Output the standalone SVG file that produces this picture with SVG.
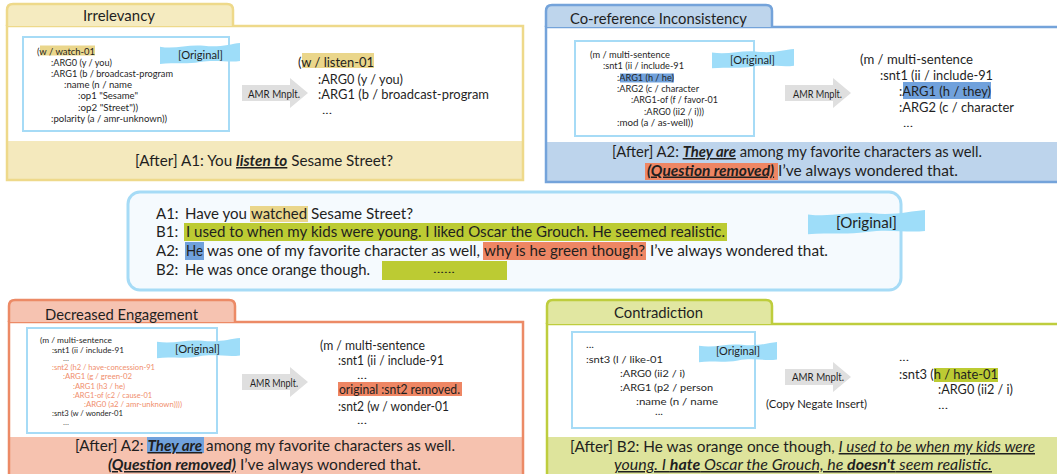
<svg xmlns="http://www.w3.org/2000/svg" xmlns:xlink="http://www.w3.org/1999/xlink" width="1057" height="474" viewBox="0 0 1057 474">
<defs>
<style>
text{font-family:Lato,"Liberation Sans",sans-serif;fill:#1f1f1f}
.ti{font-size:16px}
.bt{font-size:15px}
.rt{font-size:14px}
.am{font-size:10px}
.a9{font-size:9px}
.a7{font-size:7.6px}
.og{font-size:12px}
.mn{font-size:10.5px}
.dt{font-size:9px}
.d7{font-size:6px}
.or{fill:#F08E6C}
.bu{font-weight:bold;font-style:italic;text-decoration:underline}
.iu{font-style:italic;text-decoration:underline}
.inner{fill:#fff;stroke:#A6DBF6;stroke-width:2}
</style>
<path id="flag" d="M0,4 C20,7 35,1 55,3 C75,5 88,1 100,0 L100,19 C85,21 70,17 50,20 C30,23 15,20 0,22 Z" fill="#9EDDF9"/>
<path id="arrow" d="M0,7 H48 V0 L66,15 L48,30 V23 H0 Z" fill="#DFDFDF"/>
</defs>

<!-- Irrelevancy -->
<g id="irrelevancy">
<rect x="7" y="26" width="516" height="154" fill="#fff"/>
<rect x="7" y="141" width="516" height="39" fill="#F4E9BD"/>
<rect x="7" y="26" width="516" height="154" fill="none" stroke="#EED98A" stroke-width="2.5"/>
<path d="M7,26 V10 Q7,4 13,4 H227 Q233,4 233,10 V26" fill="#F5EBC0" stroke="#EED98A" stroke-width="2.5"/>
<text class="ti" x="83" y="21" textLength="72" lengthAdjust="spacingAndGlyphs">Irrelevancy</text>
<rect class="inner" x="23" y="37" width="206" height="94"/>
<rect x="40" y="45.5" width="55" height="10" fill="#EAD68B"/>
<text class="am" x="37" y="54.5" textLength="58" lengthAdjust="spacingAndGlyphs">(w / watch-01</text>
<text class="am" x="51" y="65.5" textLength="61" lengthAdjust="spacingAndGlyphs">:ARG0 (y / you)</text>
<text class="am" x="51" y="76.5" textLength="122" lengthAdjust="spacingAndGlyphs">:ARG1 (b / broadcast-program</text>
<text class="am" x="64" y="87.5" textLength="68" lengthAdjust="spacingAndGlyphs">:name (n / name</text>
<text class="am" x="78" y="99" textLength="60" lengthAdjust="spacingAndGlyphs">:op1 "Sesame"</text>
<text class="am" x="78" y="110.5" textLength="60" lengthAdjust="spacingAndGlyphs">:op2 "Street"))</text>
<text class="am" x="51" y="121.5" textLength="116" lengthAdjust="spacingAndGlyphs">:polarity (a / amr-unknown))</text>
<use xlink:href="#flag" transform="translate(160,43) scale(0.8,0.95)"/>
<text class="og" x="178" y="58.5" textLength="45" lengthAdjust="spacingAndGlyphs">[Original]</text>
<rect x="302" y="53" width="72" height="15" fill="#EAD68B"/>
<text class="rt" x="298" y="66.5" textLength="76" lengthAdjust="spacingAndGlyphs">(w / listen-01</text>
<text class="rt" x="318" y="84" textLength="85" lengthAdjust="spacingAndGlyphs">:ARG0 (y / you)</text>
<text class="rt" x="318" y="99" textLength="171" lengthAdjust="spacingAndGlyphs">:ARG1 (b / broadcast-program</text>
<text class="dt" x="322" y="114" textLength="10" lengthAdjust="spacingAndGlyphs">...</text>
<text class="bt" x="135" y="166" textLength="258" lengthAdjust="spacingAndGlyphs">[After] A1: You <tspan class="bu">listen to</tspan> Sesame Street?</text>
</g>

<!-- Co-reference Inconsistency -->
<g id="coreference">
<rect x="546" y="27" width="514" height="155" fill="#fff"/>
<rect x="546" y="142" width="514" height="39" fill="#BDD4EC"/>
<rect x="546" y="27" width="514" height="155" fill="none" stroke="#74A3DA" stroke-width="2.5"/>
<path d="M546,27 V11 Q546,5 552,5 H766 Q772,5 772,11 V27" fill="#BED5EC" stroke="#74A3DA" stroke-width="2.5"/>
<text class="ti" x="570" y="23.5" textLength="177" lengthAdjust="spacingAndGlyphs">Co-reference Inconsistency</text>
<rect class="inner" x="575" y="41" width="179" height="95"/>
<rect x="620" y="73.5" width="54" height="9" fill="#70A1DC"/>
<text class="a9" x="590" y="57.5" textLength="80" lengthAdjust="spacingAndGlyphs">(m / multi-sentence</text>
<text class="a9" x="603" y="69" textLength="81" lengthAdjust="spacingAndGlyphs">:snt1 (ii / include-91</text>
<text class="a9" x="617" y="80.5" textLength="57" lengthAdjust="spacingAndGlyphs">:ARG1 (h / he)</text>
<text class="a9" x="617" y="91.5" textLength="82" lengthAdjust="spacingAndGlyphs">:ARG2 (c / character</text>
<text class="a9" x="631" y="103" textLength="87" lengthAdjust="spacingAndGlyphs">:ARG1-of (f / favor-01</text>
<text class="a9" x="644" y="114.5" textLength="60" lengthAdjust="spacingAndGlyphs">:ARG0 (ii2 / i)))</text>
<text class="a9" x="617" y="126" textLength="76" lengthAdjust="spacingAndGlyphs">:mod (a / as-well))</text>
<use xlink:href="#flag" transform="translate(712,49) scale(0.82,0.88)"/>
<text class="og" x="730" y="63.5" textLength="45" lengthAdjust="spacingAndGlyphs">[Original]</text>
<text class="rt" x="860" y="64" textLength="113" lengthAdjust="spacingAndGlyphs">(m / multi-sentence</text>
<text class="rt" x="880" y="80" textLength="113" lengthAdjust="spacingAndGlyphs">:snt1 (ii / include-91</text>
<rect x="903" y="82" width="88" height="17" fill="#70A1DC"/>
<text class="rt" x="899" y="95.5" textLength="92" lengthAdjust="spacingAndGlyphs">:ARG1 (h / they)</text>
<text class="rt" x="899" y="112" textLength="115" lengthAdjust="spacingAndGlyphs">:ARG2 (c / character</text>
<text class="dt" x="903" y="127" textLength="10" lengthAdjust="spacingAndGlyphs">...</text>
<text class="bt" x="612" y="157" textLength="370" lengthAdjust="spacingAndGlyphs">[After] A2: <tspan class="bu">They are</tspan> among my favorite characters as well.</text>
<rect x="645" y="163" width="133" height="17" fill="#EE8664"/>
<text class="bt" x="647" y="175.5" textLength="311" lengthAdjust="spacingAndGlyphs"><tspan class="bu">(Question removed)</tspan> I’ve always wondered that.</text>
</g>

<!-- Original dialogue -->
<g id="original-dialogue">
<rect x="128" y="192" width="773" height="98" rx="12" fill="#F5FAFE" stroke="#A6DBF6" stroke-width="3"/>
<rect x="250" y="206" width="58" height="16" fill="#EAD68B"/>
<rect x="184" y="223" width="543" height="18" fill="#BCCB33"/>
<rect x="185" y="242" width="19" height="18" fill="#70A1DC"/>
<rect x="483" y="242" width="163" height="18" fill="#EE8664"/>
<rect x="382" y="261" width="125" height="19" fill="#BCCB33"/>
<text class="bt" x="156" y="219">A1:</text>
<text class="bt" x="185" y="219" textLength="62" lengthAdjust="spacingAndGlyphs">Have you</text>
<text class="bt" x="251" y="219" textLength="56" lengthAdjust="spacingAndGlyphs">watched</text>
<text class="bt" x="311" y="219" textLength="102" lengthAdjust="spacingAndGlyphs">Sesame Street?</text>
<text class="bt" x="156" y="237">B1:</text>
<text class="bt" x="186" y="237" textLength="539" lengthAdjust="spacingAndGlyphs">I used to when my kids were young. I liked Oscar the Grouch. He seemed realistic.</text>
<text class="bt" x="156" y="256">A2:</text>
<text class="bt" x="186" y="256" textLength="17" lengthAdjust="spacingAndGlyphs">He</text>
<text class="bt" x="207" y="256" textLength="273" lengthAdjust="spacingAndGlyphs">was one of my favorite character as well,</text>
<text class="bt" x="484" y="256" textLength="161" lengthAdjust="spacingAndGlyphs">why is he green though?</text>
<text class="bt" x="650" y="256" textLength="178" lengthAdjust="spacingAndGlyphs">I’ve always wondered that.</text>
<text class="bt" x="156" y="275">B2:</text>
<text class="bt" x="185" y="275" textLength="185" lengthAdjust="spacingAndGlyphs">He was once orange though.</text>
<text class="dt" x="433" y="273" textLength="22" lengthAdjust="spacingAndGlyphs">......</text>
<use xlink:href="#flag" transform="translate(808,210) scale(1.17,1.1)"/>
<text class="bt" x="836" y="228" textLength="61" lengthAdjust="spacingAndGlyphs">[Original]</text>
</g>

<!-- Decreased Engagement -->
<g id="decreased-engagement">
<rect x="9" y="322" width="514" height="154" fill="#fff"/>
<rect x="9" y="437" width="514" height="39" fill="#F6C2AF"/>
<rect x="9" y="322" width="514" height="154" fill="none" stroke="#EC8A66" stroke-width="2.5"/>
<path d="M9,322 V306 Q9,300 15,300 H229 Q235,300 235,306 V322" fill="#F6C3B1" stroke="#EC8A66" stroke-width="2.5"/>
<text class="ti" x="45" y="319.5" textLength="153" lengthAdjust="spacingAndGlyphs">Decreased Engagement</text>
<rect class="inner" x="27" y="328" width="190" height="105"/>
<text class="a7" x="40" y="343" textLength="72" lengthAdjust="spacingAndGlyphs">(m / multi-sentence</text>
<text class="a7" x="52" y="352.5" textLength="72" lengthAdjust="spacingAndGlyphs">:snt1 (ii / include-91</text>
<text class="d7" x="63" y="361" textLength="6" lengthAdjust="spacingAndGlyphs">...</text>
<text class="a7 or" x="52" y="370" textLength="103" lengthAdjust="spacingAndGlyphs">:snt2 (h2 / have-concession-91</text>
<text class="a7 or" x="63" y="379" textLength="69" lengthAdjust="spacingAndGlyphs">:ARG1 (g / green-02</text>
<text class="a7 or" x="73" y="388.5" textLength="52" lengthAdjust="spacingAndGlyphs">:ARG1 (h3 / he)</text>
<text class="a7 or" x="73" y="397.5" textLength="79" lengthAdjust="spacingAndGlyphs">:ARG1-of (c2 / cause-01</text>
<text class="a7 or" x="84" y="406.5" textLength="98" lengthAdjust="spacingAndGlyphs">:ARG0 (a2 / amr-unknown))))</text>
<text class="a7" x="52" y="415.5" textLength="71" lengthAdjust="spacingAndGlyphs">:snt3 (w / wonder-01</text>
<text class="d7" x="63" y="425" textLength="6" lengthAdjust="spacingAndGlyphs">...</text>
<use xlink:href="#flag" transform="translate(157,338) scale(0.83,0.92)"/>
<text class="og" x="175" y="353" textLength="45" lengthAdjust="spacingAndGlyphs">[Original]</text>
<text class="rt" x="320" y="350" textLength="105" lengthAdjust="spacingAndGlyphs">(m / multi-sentence</text>
<text class="rt" x="338" y="365" textLength="106" lengthAdjust="spacingAndGlyphs">:snt1 (ii / include-91</text>
<text class="dt" x="357" y="379" textLength="10" lengthAdjust="spacingAndGlyphs">...</text>
<rect x="338" y="382" width="124" height="14" fill="#EE8664"/>
<text class="rt" x="339" y="394" textLength="121" lengthAdjust="spacingAndGlyphs">original :snt2 removed.</text>
<text class="rt" x="338" y="410.5" textLength="111" lengthAdjust="spacingAndGlyphs">:snt2 (w / wonder-01</text>
<text class="dt" x="357" y="424" textLength="10" lengthAdjust="spacingAndGlyphs">...</text>
<rect x="147" y="437" width="57" height="16" fill="#70A1DC"/>
<text class="bt" x="75" y="451" textLength="380" lengthAdjust="spacingAndGlyphs">[After] A2: <tspan class="bu">They are</tspan> among my favorite characters as well.</text>
<text class="bt" x="108" y="470" textLength="313" lengthAdjust="spacingAndGlyphs"><tspan class="bu">(Question removed)</tspan> I’ve always wondered that.</text>
</g>

<!-- Contradiction -->
<g id="contradiction">
<rect x="547" y="324" width="513" height="152" fill="#fff"/>
<rect x="547" y="437" width="513" height="39" fill="#DEE49C"/>
<rect x="547" y="324" width="513" height="152" fill="none" stroke="#BECD3D" stroke-width="2.5"/>
<path d="M547,324 V306 Q547,300 553,300 H766 Q772,300 772,306 V324" fill="#E1E7A1" stroke="#BECD3D" stroke-width="2.5"/>
<text class="ti" x="614" y="318" textLength="89" lengthAdjust="spacingAndGlyphs">Contradiction</text>
<rect class="inner" x="572" y="332" width="183" height="96"/>
<text class="dt" x="586" y="348" textLength="8" lengthAdjust="spacingAndGlyphs">...</text>
<text class="am" x="586" y="363" textLength="77" lengthAdjust="spacingAndGlyphs">:snt3 (l / like-01</text>
<text class="am" x="620" y="377" textLength="65" lengthAdjust="spacingAndGlyphs">:ARG0 (ii2 / i)</text>
<text class="am" x="620" y="391" textLength="93" lengthAdjust="spacingAndGlyphs">:ARG1 (p2 / person</text>
<text class="am" x="636" y="405" textLength="82" lengthAdjust="spacingAndGlyphs">:name (n / name</text>
<text class="dt" x="655" y="415" textLength="8" lengthAdjust="spacingAndGlyphs">...</text>
<use xlink:href="#flag" transform="translate(699,342) scale(0.78,0.92)"/>
<text class="og" x="716" y="355" textLength="44" lengthAdjust="spacingAndGlyphs">[Original]</text>
<text class="mn" x="766" y="408" textLength="101" lengthAdjust="spacingAndGlyphs">(Copy Negate Insert)</text>
<text class="dt" x="899" y="361" textLength="10" lengthAdjust="spacingAndGlyphs">...</text>
<rect x="934" y="368" width="64" height="14" fill="#BCCB33"/>
<text class="rt" x="899" y="379" textLength="99" lengthAdjust="spacingAndGlyphs">:snt3 (h / hate-01</text>
<text class="rt" x="938" y="394" textLength="75" lengthAdjust="spacingAndGlyphs">:ARG0 (ii2 / i)</text>
<text class="dt" x="938" y="409" textLength="10" lengthAdjust="spacingAndGlyphs">...</text>
<text class="bt" x="570" y="452" textLength="465" lengthAdjust="spacingAndGlyphs">[After] B2: He was orange once though, <tspan class="iu">I used to be when my kids were</tspan></text>
<text class="bt iu" x="614" y="470" textLength="378" lengthAdjust="spacingAndGlyphs">young. I <tspan font-weight="bold">hate</tspan> Oscar the Grouch, he <tspan font-weight="bold">doesn't</tspan> seem realistic.</text>
</g>

<!-- AMR manipulation arrows -->
<g id="connectors">
<use xlink:href="#arrow" transform="translate(242,78)"/>
<text class="mn" x="248" y="98" textLength="52" lengthAdjust="spacingAndGlyphs">AMR Mnplt.</text>
<use xlink:href="#arrow" transform="translate(785,78)"/>
<text class="mn" x="793" y="98" textLength="49" lengthAdjust="spacingAndGlyphs">AMR Mnplt.</text>
<use xlink:href="#arrow" transform="translate(242,367)"/>
<text class="mn" x="250" y="387" textLength="48" lengthAdjust="spacingAndGlyphs">AMR Mnplt.</text>
<use xlink:href="#arrow" transform="translate(785,362)"/>
<text class="mn" x="792" y="381" textLength="52" lengthAdjust="spacingAndGlyphs">AMR Mnplt.</text>
</g>
</svg>
